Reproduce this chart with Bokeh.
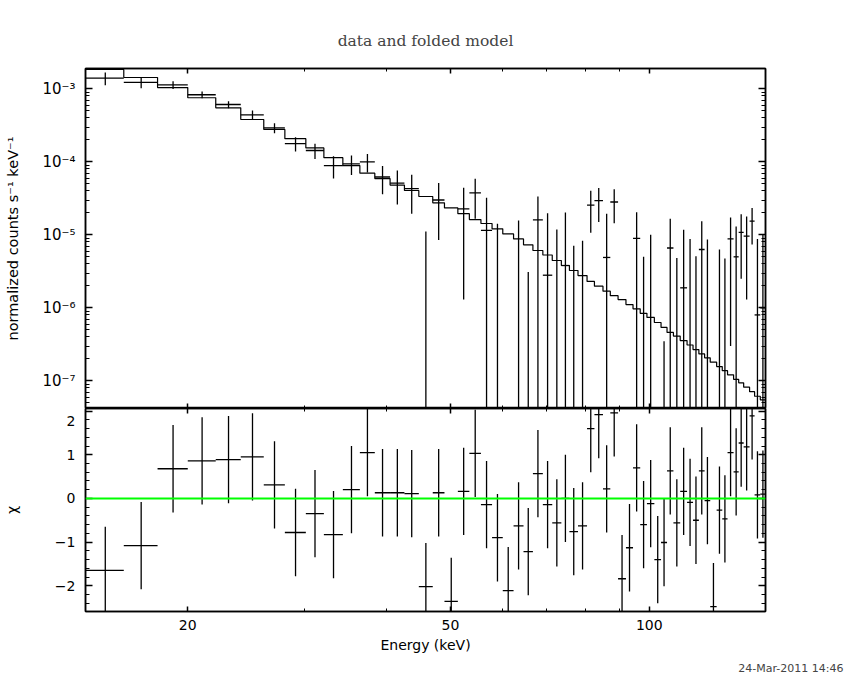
import numpy as np
from bokeh.plotting import figure
from bokeh.models import (Range1d, LogAxis, LinearAxis, FixedTicker, Span, Title,
                          CustomJSTickFormatter)
from bokeh.layouts import column
from bokeh.embed import file_html
from bokeh.resources import INLINE

# ---------------- data ----------------
energy_edges = [14.0, 16.0, 18.0, 20.0, 22.05, 24.06, 26.07, 28.06, 30.19, 32.15,
                34.35, 36.45, 38.4, 40.5, 42.58, 44.77, 47.0, 48.96, 51.3, 53.4,
                55.6, 57.8, 60.0, 62.3, 64.5, 66.65, 69.0, 71.3, 73.6, 75.7,
                78.0, 80.5, 82.6, 85.1, 87.3, 89.7, 92.2, 94.5, 96.9, 99.2,
                101.8, 104.2, 106.4, 108.8, 111.4, 114.1, 116.5, 118.9, 121.3, 123.7,
                126.5, 129.0, 131.4, 134.2, 136.6, 139.0, 141.9, 144.4, 147.3, 150.0]

rate = [1.40e-3, 1.23e-3, 1.13e-3, 8.3e-4, 6.1e-4, 4.4e-4, 2.92e-4, 1.78e-4, 1.43e-4, 8.9e-5,
        9.4e-5, 1.0e-4, 6.2e-5, 5.1e-5, 4.3e-5, -1.09e-5, 3.0e-5, -2.38e-5, 2.27e-5, 3.76e-5,
        1.15e-5, -6.8e-6, -3.19e-5, -2.9e-6, -1.58e-5, 1.6e-5, 2.8e-6, -4.9e-6, 3.8e-6, -8.9e-6,
        -6.7e-6, 2.55e-5, 2.95e-5, 4.9e-6, 2.82e-5, -2.45e-5, -1.47e-5, 8.95e-6, -5.5e-6, -5.3e-7,
        -1.48e-5, -1.065e-5, 6.6e-6, -5.1e-6, 1.88e-6, -5.3e-7, -4.5e-6, 6.3e-6, -2.3e-7, -2.16e-5,
        -2.1e-6, -4.0e-6, 8.8e-6, 5.0e-6, 1.08e-5, 9.6e-6, 1.54e-5, 8.0e-7, 1.0e-6]

rate_err = [2.8e-4, 2.1e-4, 1.36e-4, 8.8e-5, 6.7e-5, 6.4e-5, 4.6e-5, 3.9e-5, 3.4e-5, 3.0e-5,
            2.8e-5, 2.85e-5, 2.6e-5, 2.5e-5, 2.35e-5, 2.2e-5, 2.15e-5, 2.0e-5, 2.14e-5, 2.1e-5,
            2.06e-5, 2.1e-5, 2.0e-5, 1.86e-5, 1.89e-5, 1.75e-5, 1.7e-5, 1.67e-5, 1.64e-5, 1.6e-5,
            1.5e-5, 1.48e-5, 1.45e-5, 1.45e-5, 1.38e-5, 1.4e-5, 1.4e-5, 1.14e-5, 1.05e-5, 1.06e-5,
            1.1e-5, 1.1e-5, 1.0e-5, 9.9e-6, 9.9e-6, 9.3e-6, 9.6e-6, 9.0e-6, 8.85e-6, 8.8e-6,
            8.4e-6, 8.76e-6, 8.5e-6, 8.0e-6, 8.3e-6, 8.3e-6, 8.0e-6, 8.0e-6, 9.3e-6]

model = [1.84e-3, 1.43e-3, 1.04e-3, 7.55e-4, 5.5e-4, 3.8e-4, 2.78e-4, 2.08e-4, 1.55e-4, 1.14e-4,
         8.9e-5, 7.0e-5, 5.9e-5, 4.8e-5, 4.05e-5, 3.35e-5, 2.75e-5, 2.34e-5, 1.95e-5, 1.62e-5,
         1.43e-5, 1.21e-5, 1.03e-5, 8.8e-6, 7.3e-6, 6.1e-6, 5.3e-6, 4.45e-6, 3.8e-6, 3.25e-6,
         2.77e-6, 2.3e-6, 1.98e-6, 1.69e-6, 1.47e-6, 1.3e-6, 1.11e-6, 9.7e-7, 8.4e-7, 7.4e-7,
         6.3e-7, 5.4e-7, 4.6e-7, 4.1e-7, 3.56e-7, 3.1e-7, 2.68e-7, 2.34e-7, 2.07e-7, 1.8e-7,
         1.57e-7, 1.38e-7, 1.21e-7, 1.05e-7, 9.4e-8, 8.2e-8, 7.1e-8, 6.15e-8, 5.5e-8]

chi = [-1.65, -1.08, 0.68, 0.86, 0.89, 0.95, 0.31, -0.78, -0.35, -0.83,
       0.2, 1.05, 0.13, 0.13, 0.11, -2.02, 0.13, -2.36, 0.16, 1.03,
       -0.14, -0.9, -2.11, -0.63, -1.22, 0.57, -0.14, -0.56, 0.0, -0.76,
       -0.63, 1.6, 1.92, 0.22, 1.96, -1.84, -1.13, 0.7, -0.6, -0.12,
       -1.4, -1.01, 0.63, -0.56, 0.16, -0.09, -0.5, 0.63, -0.05, -2.48,
       -0.27, -0.47, 1.05, 0.61, 1.27, 1.18, 1.89, 0.08, 0.1]

x_major = [20, 50, 100]
x_major_labels = ["20", "50", "100"]
x_minor = [30, 40, 60, 70, 80, 90]
y_major = [1e-7, 1e-6, 1e-5, 1e-4, 1e-3]
y_major_labels = ["10\u207b\u2077", "10\u207b\u2076", "10\u207b\u2075", "10\u207b\u2074", "10\u207b\u00b3"]
y_minor = [k * 10.0 ** n for n in range(-8, -2) for k in range(2, 10)]
chi_major = [-2, -1, 0, 1, 2]
chi_major_labels = ["\u22122", "\u22121", "0", "1", "2"]
chi_minor = [round(-2.6 + 0.2 * i, 1) for i in range(25)]

title_text = "data and folded model"
ylabel_top = "normalized counts s\u207b\u00b9 keV\u207b\u00b9"
ylabel_bottom = "\u03c7"
xlabel = "Energy (keV)"
date_text = "24-Mar-2011 14:46"

# ---------------- derived arrays ----------------
edges = np.array(energy_edges)
lo, hi = edges[:-1], edges[1:]
xc = (lo + hi) / 2.0
d = np.array(rate)
s = np.array(rate_err)
m = np.array(model)
c = np.array(chi)

FONT = "DejaVu Sans"
x_range = Range1d(14.0, 150.0)
LEFT = 83


def style_axis(ax, major_len, minor_len, labels=True):
    ax.major_tick_in = major_len
    ax.major_tick_out = 0
    ax.minor_tick_in = minor_len
    ax.minor_tick_out = 0
    ax.axis_line_color = "black"
    ax.axis_line_width = 1.5
    ax.major_tick_line_color = "black"
    ax.major_tick_line_width = 1.5
    ax.minor_tick_line_color = "black"
    ax.minor_tick_line_width = 1
    if labels:
        ax.major_label_text_font = FONT
        ax.major_label_text_font_size = "14px"
        ax.major_label_text_color = "black"
        ax.axis_label_text_font = FONT
        ax.axis_label_text_font_size = "14px"
        ax.axis_label_text_font_style = "normal"
        ax.axis_label_text_color = "black"
    else:
        ax.formatter = CustomJSTickFormatter(code="return ''")
        ax.major_label_text_font_size = "0px"
        ax.major_label_standoff = 0


# ---------------- top panel ----------------
p1 = figure(x_axis_type="log", y_axis_type="log", x_range=x_range,
            y_range=Range1d(4.18e-8, 1.9e-3),
            frame_width=680, frame_height=340,
            min_border_left=LEFT, min_border_right=71, min_border_top=68, min_border_bottom=0,
            toolbar_location=None, output_backend="svg", title=title_text)
p1.title.align = "center"
p1.title.text_font = "DejaVu Serif"
p1.title.text_font_size = "15.5px"
p1.title.text_font_style = "normal"
p1.title.standoff = 37
p1.grid.visible = False
p1.outline_line_color = "black"
p1.outline_line_width = 1.5

p1.yaxis.ticker = FixedTicker(ticks=y_major, minor_ticks=y_minor)
p1.yaxis.major_label_overrides = dict(zip(y_major, y_major_labels))
style_axis(p1.yaxis[0], 7, 4)
p1.yaxis.major_label_text_font_size = "15px"
p1.yaxis.major_label_standoff = 10
p1.yaxis.axis_label = ylabel_top
p1.yaxis.axis_label_text_font_size = "14.5px"
p1.yaxis.axis_label_standoff = 18

p1.xaxis.ticker = FixedTicker(ticks=x_major, minor_ticks=x_minor)
style_axis(p1.xaxis[0], 5, 3, labels=False)

top_ax = LogAxis(ticker=FixedTicker(ticks=x_major, minor_ticks=x_minor))
style_axis(top_ax, 5, 3, labels=False)
p1.add_layout(top_ax, "above")
right_ax = LogAxis(ticker=FixedTicker(ticks=y_major, minor_ticks=y_minor))
style_axis(right_ax, 7, 4, labels=False)
p1.add_layout(right_ax, "right")

# model histogram
p1.step(x=list(lo) + [hi[-1]], y=list(m) + [m[-1]], mode="after",
        line_color="black", line_width=1.2)
# data crosses
show_h = d > 0
p1.segment(x0=lo[show_h], x1=hi[show_h], y0=d[show_h], y1=d[show_h],
           line_color="black", line_width=1.3)
show_v = (d + s) > 0
ybot = np.where(d - s > 0, d - s, 1e-12)
p1.segment(x0=xc[show_v], x1=xc[show_v], y0=ybot[show_v], y1=(d + s)[show_v],
           line_color="black", line_width=1.3)

# ---------------- bottom panel ----------------
p2 = figure(x_axis_type="log", x_range=x_range, y_range=Range1d(-2.59, 2.06),
            frame_width=680, frame_height=203,
            min_border_left=LEFT, min_border_right=80, min_border_top=0, min_border_bottom=20,
            toolbar_location=None, output_backend="svg")
p2.grid.visible = False
p2.outline_line_color = "black"
p2.outline_line_width = 1.5

# the top tick label ("2") sits on the panel boundary: push it down a little
# (blank first line) so that it is not cut at the edge of the panel
axis_chi_labels = {v: (t if v != chi_major[-1] else "\n" + t)
                   for v, t in zip(chi_major, chi_major_labels)}
p2.yaxis.ticker = FixedTicker(ticks=chi_major, minor_ticks=chi_minor)
p2.yaxis.major_label_overrides = axis_chi_labels
style_axis(p2.yaxis[0], 7, 4)
p2.yaxis.major_label_standoff = 10
p2.yaxis.major_label_text_line_height = 0.3
p2.yaxis.axis_label = ylabel_bottom
p2.yaxis.axis_label_standoff = 32

p2.xaxis.ticker = FixedTicker(ticks=x_major, minor_ticks=x_minor)
p2.xaxis.major_label_overrides = dict(zip(x_major, x_major_labels))
style_axis(p2.xaxis[0], 5, 3)
p2.xaxis.major_label_standoff = 8
p2.xaxis.axis_label = xlabel
p2.xaxis.axis_label_standoff = 4

top_ax2 = LogAxis(ticker=FixedTicker(ticks=x_major, minor_ticks=x_minor))
style_axis(top_ax2, 5, 3, labels=False)
p2.add_layout(top_ax2, "above")
right_ax2 = LinearAxis(ticker=FixedTicker(ticks=chi_major, minor_ticks=chi_minor))
style_axis(right_ax2, 7, 4, labels=False)
p2.add_layout(right_ax2, "right")

p2.segment(x0=lo, x1=hi, y0=c, y1=c, line_color="black", line_width=1.3)
p2.segment(x0=xc, x1=xc, y0=c - 1, y1=c + 1, line_color="black", line_width=1.3)
p2.add_layout(Span(location=0, dimension="width", line_color="#00ff00", line_width=2))

date = Title(text=date_text, align="right", offset=-78, text_font=FONT,
             text_font_size="11px", text_font_style="normal", standoff=9)
p2.add_layout(date, "below")

layout = column(p1, p2, spacing=0)
open("out.html", "w").write(file_html(layout, INLINE))
